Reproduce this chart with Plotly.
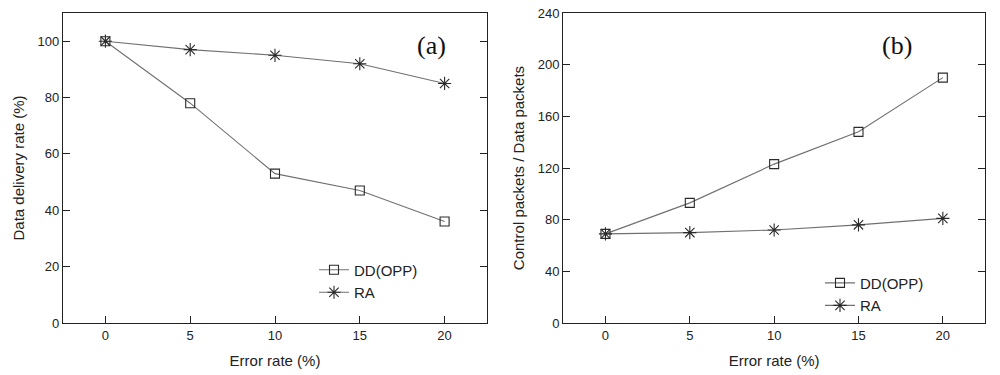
import plotly.graph_objects as go
from plotly.subplots import make_subplots

error_rate = [0, 5, 10, 15, 20]
delivery_dd = [100, 78, 53, 47, 36]
delivery_ra = [100, 97, 95, 92, 85]
control_dd = [69, 93, 123, 148, 190]
control_ra = [69, 70, 72, 76, 81]

fig = make_subplots(rows=1, cols=2)

line_col = "#707070"
mk_col = "#2a2a2a"
sq = dict(symbol="square-open", size=9, color=mk_col, line=dict(width=1.1, color=mk_col))
ast = dict(symbol="asterisk-open", size=11, color=mk_col, line=dict(width=1.1, color=mk_col))

fig.add_trace(go.Scatter(x=error_rate, y=delivery_dd, name="DD(OPP)", mode="lines+markers",
                         line=dict(color=line_col, width=1.1), marker=sq, legend="legend"), 1, 1)
fig.add_trace(go.Scatter(x=error_rate, y=delivery_ra, name="RA", mode="lines+markers",
                         line=dict(color=line_col, width=1.1), marker=ast, legend="legend"), 1, 1)
fig.add_trace(go.Scatter(x=error_rate, y=control_dd, name="DD(OPP)", mode="lines+markers",
                         line=dict(color=line_col, width=1.1), marker=sq, legend="legend2"), 1, 2)
fig.add_trace(go.Scatter(x=error_rate, y=control_ra, name="RA", mode="lines+markers",
                         line=dict(color=line_col, width=1.1), marker=ast, legend="legend2"), 1, 2)

font_fam = "Liberation Sans, Arial"
axis_common = dict(showline=True, linecolor="#222", linewidth=1.3, ticks="inside", ticklen=7,
                   tickcolor="#222", tickwidth=1.2, showgrid=False, zeroline=False,
                   tickfont=dict(family=font_fam, size=13, color="#222"),
                   automargin=False)

fig.update_xaxes(**axis_common, mirror=True, range=[-2.5, 22.5], tickvals=error_rate,
                 title=dict(text="Error rate (%)", font=dict(family=font_fam, size=15, color="#222"), standoff=13))
fig.update_yaxes(**axis_common, mirror="ticks")
fig.update_yaxes(range=[0, 110], tickvals=[0, 20, 40, 60, 80, 100], row=1, col=1,
                 title=dict(text="Data delivery rate (%)", font=dict(family=font_fam, size=15, color="#222"), standoff=9))
fig.update_yaxes(range=[0, 240], tickvals=[0, 40, 80, 120, 160, 200, 240], row=1, col=2,
                 title=dict(text="Control packets / Data packets", font=dict(family=font_fam, size=15, color="#222"), standoff=9))

fig.update_layout(
    width=1000, height=375,
    margin=dict(l=0, r=0, t=0, b=0),
    paper_bgcolor="white", plot_bgcolor="white",
    xaxis=dict(domain=[0.063, 0.487]),
    xaxis2=dict(domain=[0.5633, 0.985]),
    yaxis=dict(domain=[0.1387, 0.9653]),
    yaxis2=dict(domain=[0.1387, 0.9653]),
    legend=dict(x=0.314, y=0.324, xanchor="left", yanchor="top", bgcolor="rgba(0,0,0,0)",
                font=dict(family=font_fam, size=15, color="#222"), tracegroupgap=0),
    legend2=dict(x=0.820, y=0.289, xanchor="left", yanchor="top", bgcolor="rgba(0,0,0,0)",
                 font=dict(family=font_fam, size=15, color="#222"), tracegroupgap=0),
    showlegend=True,
)

fig.add_annotation(x=19.25, y=98.5, xref="x", yref="y", text="(a)", showarrow=False,
                   font=dict(family="Liberation Serif, Times New Roman", size=26, color="#111"))
fig.add_annotation(x=17.3, y=215, xref="x2", yref="y2", text="(b)", showarrow=False,
                   font=dict(family="Liberation Serif, Times New Roman", size=26, color="#111"))

fig.write_html("out.html", config={"displayModeBar": False},
               post_script="document.body.style.margin='0px';")
